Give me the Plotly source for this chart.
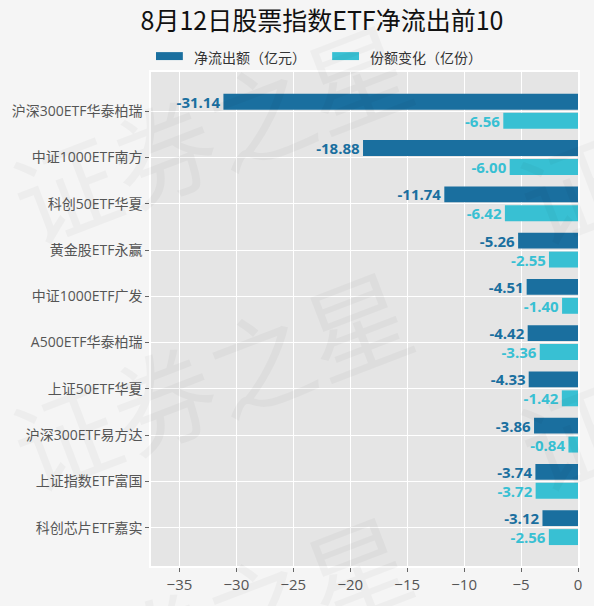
import plotly.graph_objects as go

# data
etf_names = ["沪深300ETF华泰柏瑞", "中证1000ETF南方", "科创50ETF华夏", "黄金股ETF永赢", "中证1000ETF广发",
             "A500ETF华泰柏瑞", "上证50ETF华夏", "沪深300ETF易方达", "上证指数ETF富国", "科创芯片ETF嘉实"]
net_outflow = [-31.14, -18.88, -11.74, -5.26, -4.51, -4.42, -4.33, -3.86, -3.74, -3.12]
share_change = [-6.56, -6.00, -6.42, -2.55, -1.40, -3.36, -1.42, -0.84, -3.72, -2.56]
series_names = ["净流出额（亿元）", "份额变化（亿份）"]
x_ticks = [-35, -30, -25, -20, -15, -10, -5, 0]

dark_blue = "#1a6f9f"
light_cyan = "#38c0d3"
W, H = 594, 606
L, R, T, B = 151, 580, 72, 569
font_fam = "Open Sans, Noto Sans CJK SC, sans-serif"


def px(x):
    return (x - L) / (R - L)


def py(y):
    return (B - y) / (B - T)


fig = go.Figure()
for name, vals, col in [(series_names[0], net_outflow, dark_blue),
                        (series_names[1], share_change, light_cyan)]:
    fig.add_trace(go.Bar(
        y=etf_names, x=vals, name=name, orientation="h",
        marker=dict(color=col, line=dict(width=0)),
        text=vals, texttemplate="%{x:.2f}", textposition="outside",
        textfont=dict(family=font_fam, size=15, color=col, weight="bold"),
        constraintext="none", cliponaxis=False, showlegend=False,
    ))

# legend drawn by hand to get the wide flat swatches
shapes = []
annos = []
for name, col, x0 in [(series_names[0], dark_blue, 156), (series_names[1], light_cyan, 333)]:
    shapes.append(dict(type="rect", xref="paper", yref="paper",
                       x0=px(x0), x1=px(x0 + 27), y0=py(60), y1=py(52),
                       fillcolor=col, line=dict(width=0)))
    annos.append(dict(text=name, xref="paper", yref="paper", x=px(x0 + 36), y=py(57),
                      xanchor="left", yanchor="middle", showarrow=False,
                      font=dict(family="Noto Sans CJK SC", size=14, color="#333333")))

# faint watermark
for cx, cy in [(210, 130), (210, 378), (210, 625), (720, 130), (720, 378)]:
    annos.append(dict(text="证券之星", xref="paper", yref="paper", x=px(cx), y=py(cy),
                      xanchor="center", yanchor="middle", showarrow=False, textangle=-21,
                      font=dict(family="Noto Sans CJK SC", size=104, color="rgba(0,0,0,0.03)")))

fig.update_layout(
    width=W, height=H,
    margin=dict(l=L, r=W - R, t=T, b=H - B),
    paper_bgcolor="#f5f5f5", plot_bgcolor="#e5e5e5",
    barmode="group", bargap=0.18, bargroupgap=0.16,
    title=dict(text="8月12日股票指数ETF净流出前10", x=322 / W, xref="container", xanchor="center",
               y=1 - 21 / H, yref="container", yanchor="middle",
               font=dict(family="Noto Sans CJK SC", size=25, color="#111111")),
    shapes=shapes, annotations=annos,
    font=dict(family=font_fam, color="#555555"),
)
fig.update_xaxes(range=[-37.5, 0], tickvals=x_ticks, ticks="outside", ticklen=4, tickcolor="#666666",
                 tickfont=dict(size=15, color="#555555"), gridcolor="white", gridwidth=1.3,
                 zeroline=False, showline=True, linecolor="white", linewidth=1.5, mirror=True)
fig.update_yaxes(range=[9.83, -0.85], ticks="outside", ticklen=4, tickcolor="#666666",
                 tickfont=dict(size=14, color="#555555"), gridcolor="white", gridwidth=1.3,
                 zeroline=False, showline=True, linecolor="white", linewidth=1.5, mirror=True)

# the page's default 8px body margin would shift the figure
fig.write_html("out.html", config={"displayModeBar": False},
               post_script="document.body.style.margin='0';")
